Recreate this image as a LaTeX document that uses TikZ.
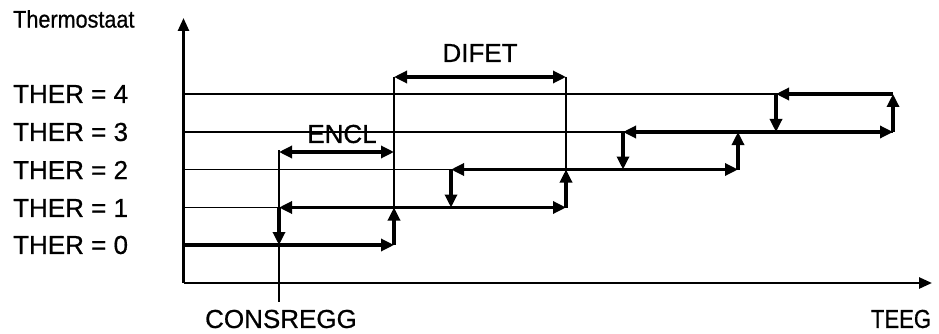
\documentclass[tikz,border=0pt]{standalone}
\usepackage{fontspec}
\setmainfont{Liberation Sans}
\newfontfamily\scanfont{Liberation Sans}[FakeBold=0.7]
\usetikzlibrary{arrows.meta}
\tikzset{
  thinline/.style={line width=1.6pt, black},
  axisline/.style={line width=2.6pt, black, -{Triangle[length=13pt,width=11pt]}},
  thickarr/.style={line width=3.2pt, black, -{Triangle[length=13pt,width=12pt]}},
  dblarr/.style={line width=3.2pt, black, {Triangle[length=13pt,width=12pt]}-{Triangle[length=13pt,width=12pt]}},
  lvllabel/.style={anchor=west, inner sep=0pt, font=\scanfont\fontsize{26}{30}\selectfont},
  lbl/.style={inner sep=0pt, font=\scanfont\fontsize{26}{30}\selectfont}
}
\begin{document}
\begin{tikzpicture}[x=1pt,y=-1pt]
\useasboundingbox (0,0) rectangle (939,334);
% axis points
\coordinate (O) at (183.5,283);
\coordinate (Ytop) at (183.5,18);
\coordinate (Xend) at (932,283);
% level lines
\coordinate (a0) at (183.5,245);
\coordinate (a1) at (183.5,207.5);
\coordinate (a2) at (183.5,169.5);
\coordinate (a3) at (183.5,132);
\coordinate (a4) at (183.5,94);
% key points
\coordinate (p0) at (394,245);
\coordinate (c0) at (279,245);
\coordinate (c1) at (279,207.5);
\coordinate (ctop) at (279,150);
\coordinate (cbot) at (279,302);
\coordinate (q1) at (394,207.5);
\coordinate (qtop) at (394,77);
\coordinate (r1) at (566,207.5);
\coordinate (r2) at (566,169.5);
\coordinate (rtop) at (566,77);
\coordinate (s2) at (451,169.5);
\coordinate (s1) at (451,207.5);
\coordinate (t2) at (738,169.5);
\coordinate (t3) at (738,132);
\coordinate (u3) at (623,132);
\coordinate (u2) at (623,169.5);
\coordinate (v3) at (893,132);
\coordinate (v4) at (893,94);
\coordinate (w4) at (776,94);
\coordinate (w3) at (776,132);
\coordinate (e1) at (279,152);
\coordinate (e2) at (394,152);

% thin level lines
\draw[thinline] (a4) -- (v4);
\draw[thinline] (a3) -- (v3);
\draw[thinline] (a2) -- (t2);
\draw[thinline] (a1) -- (r1);
% thin verticals
\draw[thinline] (ctop) -- (cbot);
\draw[thinline] (qtop) -- (p0);
\draw[thinline] (rtop) -- (r1);

% axes
\draw[axisline] (O) -- (Ytop);
\draw[axisline] (O) -- (Xend);

% thick arrows
\draw[thickarr] (a0) -- (p0);
\draw[thickarr] (p0) -- (q1);
\draw[dblarr] (c1) -- (r1);
\draw[thickarr] (c1) -- (c0);
\draw[thickarr] (r1) -- (r2);
\draw[dblarr] (s2) -- (t2);
\draw[thickarr] (s2) -- (s1);
\draw[thickarr] (t2) -- (t3);
\draw[dblarr] (u3) -- (v3);
\draw[thickarr] (u3) -- (u2);
\draw[thickarr] (v3) -- (v4);
\draw[thickarr] (v4) -- (w4);
\draw[thickarr] (w4) -- (w3);
\draw[dblarr] (e1) -- (e2);
\draw[dblarr] (qtop) -- (rtop);

% labels
\node[anchor=west, inner sep=0pt, font=\scanfont\fontsize{24}{28}\selectfont] (thermo) at (13,19) {\scalebox{0.9}[1]{Thermostaat}};
\node[lvllabel] (l4) at (13,94) {THER = 4};
\node[lvllabel] (l3) at (13,132) {THER = 3};
\node[lvllabel] (l2) at (13,170) {THER = 2};
\node[lvllabel] (l1) at (13,208) {THER = 1};
\node[lvllabel] (l0) at (13,245) {THER = 0};
\node[lbl] (encl) at (342,134) {ENCL};
\node[lbl] (difet) at (480,53) {DIFET};
\node[lbl] (cons) at (281,319) {CONSREGG};
\node[lbl] (teeg) at (901,319) {\scalebox{0.85}[1]{TEEG}};
\end{tikzpicture}
\end{document}
